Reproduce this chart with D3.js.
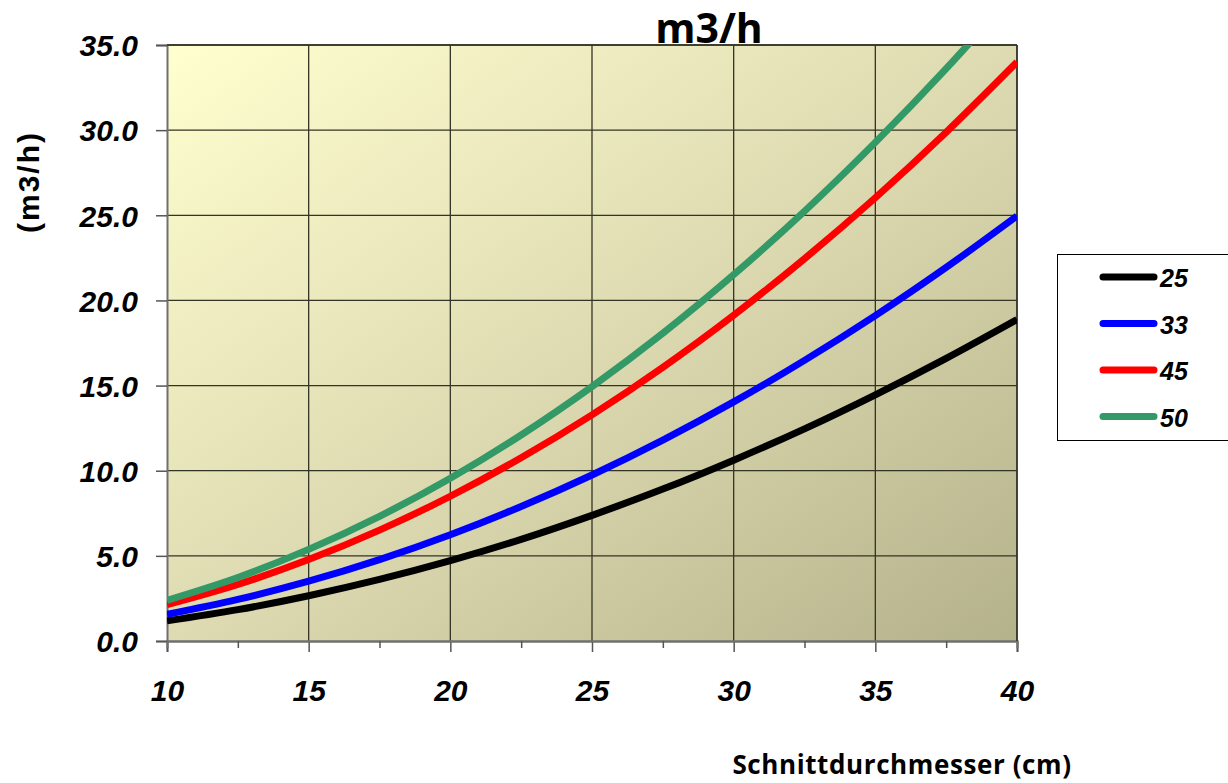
<!DOCTYPE html>
<html><head><meta charset="utf-8">
<script src="https://cdn.jsdelivr.net/npm/d3@7"></script>
<style>body{margin:0;background:#fff}svg{display:block}</style>
</head><body>
<svg id="c" width="1228" height="783"></svg>
<script>
const diameters = [10, 12.5, 15, 17.5, 20, 22.5, 25, 27.5, 30, 32.5, 35, 37.5, 40];
const s25 = [1.18, 1.84, 2.66, 3.62, 4.72, 5.97, 7.38, 8.92, 10.62, 12.46, 14.46, 16.6, 18.88];
const s33 = [1.56, 2.44, 3.51, 4.78, 6.24, 7.9, 9.75, 11.8, 14.04, 16.48, 19.11, 21.94, 24.96];
const s45 = [2.13, 3.32, 4.78, 6.51, 8.5, 10.76, 13.28, 16.07, 19.13, 22.45, 26.03, 29.88, 34.0];
const s50 = [2.39, 3.73, 5.38, 7.32, 9.56, 12.1, 14.94, 18.07, 21.51, 25.24, 29.28, 33.61, 38.24];
const seriesNames = ["25", "33", "45", "50"];
const seriesColors = ["#000000", "#0000ff", "#ff0000", "#339966"];
const xTicks = [10, 15, 20, 25, 30, 35, 40];
const xMinor = [12.5, 17.5, 22.5, 27.5, 32.5, 37.5];
const yTicks = [0, 5, 10, 15, 20, 25, 30, 35];

const allSeries = [s25, s33, s45, s50];
const svg = d3.select("#c");
const L = 167, R = 1017, T = 45, B = 641;
const x = d3.scaleLinear().domain([10, 40]).range([L, R]);
const y = d3.scaleLinear().domain([0, 35]).range([B, T]);

const defs = svg.append("defs");
const g = defs.append("linearGradient").attr("id", "bg").attr("x1", "0").attr("y1", "0").attr("x2", "1").attr("y2", "1");
g.append("stop").attr("offset", "0").attr("stop-color", "#ffffcf");
g.append("stop").attr("offset", "0.5").attr("stop-color", "#dedbb2");
g.append("stop").attr("offset", "1").attr("stop-color", "#b4b28a");
defs.append("clipPath").attr("id", "clip").append("rect").attr("x", L).attr("y", T).attr("width", R - L).attr("height", B - T);

svg.append("rect").attr("x", L).attr("y", T).attr("width", R - L).attr("height", B - T).attr("fill", "url(#bg)");

// grid
svg.append("g").selectAll("line").data(xTicks.slice(1)).join("line")
  .attr("x1", d => x(d)).attr("x2", d => x(d)).attr("y1", T).attr("y2", B)
  .attr("stroke", "#333326").attr("stroke-width", 1.3);
svg.append("g").selectAll("line").data(yTicks.slice(1)).join("line")
  .attr("x1", L).attr("x2", R).attr("y1", d => y(d)).attr("y2", d => y(d))
  .attr("stroke", "#333326").attr("stroke-width", 1.3);

// axes
const xAxis = svg.append("g").attr("transform", `translate(0,${B})`)
  .call(d3.axisBottom(x).tickValues(xTicks).tickSize(11).tickFormat(d3.format("d")));
const xAxisMinor = svg.append("g").attr("transform", `translate(0,${B})`)
  .call(d3.axisBottom(x).tickValues(xMinor).tickSize(7).tickFormat(""));
const yAxis = svg.append("g").attr("transform", `translate(${L},0)`)
  .call(d3.axisLeft(y).tickValues(yTicks).tickSize(11).tickFormat(d3.format(".1f")));
[xAxis, xAxisMinor, yAxis].forEach(a => {
  a.attr("font-size", null);
  a.select(".domain").attr("stroke", "#707070").attr("stroke-width", 2);
  a.selectAll(".tick line").attr("stroke", "#555").attr("stroke-width", 1.5);
});
xAxis.selectAll("text").attr("dy", 0).attr("y", 60)
  .style("font-family", "Liberation Sans, Arial, sans-serif").style("font-size", "30px")
  .style("font-weight", "bold").style("font-style", "italic").attr("fill", "#000");
yAxis.selectAll("text").attr("x", -29).attr("dy", "0.36em")
  .style("font-family", "Liberation Sans, Arial, sans-serif").style("font-size", "30px")
  .style("font-weight", "bold").style("font-style", "italic").attr("fill", "#000");

// right and top border
svg.append("line").attr("x1", L).attr("x2", R).attr("y1", T).attr("y2", T).attr("stroke", "#333326").attr("stroke-width", 1.5);
svg.append("line").attr("x1", R).attr("x2", R).attr("y1", T).attr("y2", B).attr("stroke", "#333326").attr("stroke-width", 1.5);

// lines
const line = d3.line().x((d, i) => x(diameters[i])).y(d => y(d)).curve(d3.curveMonotoneX);
svg.append("g").attr("clip-path", "url(#clip)").selectAll("path").data(allSeries).join("path")
  .attr("d", d => line(d)).attr("fill", "none")
  .attr("stroke", (d, i) => seriesColors[i]).attr("stroke-width", 7).attr("stroke-linejoin", "round");

// titles
svg.append("text").attr("x", 709).attr("y", 43).attr("text-anchor", "middle")
  .style("font-family", "Open Sans, sans-serif").style("font-weight", "bold").style("font-size", "41px")
  .attr("fill", "#000").text("m3/h");
svg.append("text").attr("x", 902).attr("y", 774).attr("text-anchor", "middle")
  .style("font-family", "Open Sans, sans-serif").style("font-weight", "bold").style("font-size", "26px")
  .style("letter-spacing", "0.6px")
  .attr("fill", "#000").text("Schnittdurchmesser (cm)");
svg.append("text").attr("transform", "translate(39,182) rotate(-90)").attr("text-anchor", "middle")
  .style("font-family", "Liberation Sans, Arial, sans-serif").style("font-weight", "bold").style("font-size", "30px")
  .style("letter-spacing", "2px")
  .attr("fill", "#000").text("(m3/h)");

// legend
const lg = svg.append("g");
lg.append("rect").attr("x", 1057.5).attr("y", 254.5).attr("width", 180).attr("height", 186)
  .attr("fill", "#fff").attr("stroke", "#000").attr("stroke-width", 1);
const items = lg.selectAll("g.item").data(seriesNames).join("g").attr("class", "item")
  .attr("transform", (d, i) => `translate(0,${277 + i * 46.5})`);
items.append("line").attr("x1", 1103).attr("x2", 1154).attr("y1", 0).attr("y2", 0)
  .attr("stroke", (d, i) => seriesColors[i]).attr("stroke-width", 7).attr("stroke-linecap", "round");
items.append("text").attr("x", 1160).attr("y", 10)
  .style("font-family", "Liberation Sans, Arial, sans-serif").style("font-weight", "bold").style("font-style", "italic").style("font-size", "25px")
  .attr("fill", "#000").text(d => d);
</script>
</body></html>
